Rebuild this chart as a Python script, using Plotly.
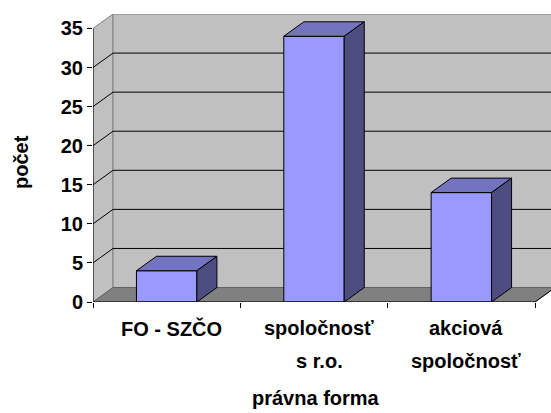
import plotly.graph_objects as go

# ---- data ----
label_line1 = ["FO - SZČO", "spoločnosť", "akciová"]
label_line2 = ["", "s r.o.", "spoločnosť"]
values = [4, 34, 14]
y_ticks = [0, 5, 10, 15, 20, 25, 30, 35]
y_title = "počet"
x_title = "právna forma"

# ---- style constants ----
DX = 0.136      # depth offset (category units)
DY = 1.85       # depth offset (value units)
BAR_W = 0.41
FONT = "Arial, Liberation Sans, sans-serif"
FRONT = "#9999FF"
TOP = "#7373BF"
SIDE = "#4D4D80"
WALL = "#C0C0C0"
FLOOR = "#808080"

n = len(values)
xs = [i + 0.5 for i in range(n)]
ymax = y_ticks[-1]
XR = 458 / ((551 - 93 - 16) / n)

fig = go.Figure()

shapes = []
shapes.append(dict(type="path", xref="x", yref="y", layer="below",
                   path=f"M0,0 L{DX},{DY} L{DX},{ymax+DY} L0,{ymax} Z",
                   fillcolor=WALL, line=dict(color="#808080", width=1)))
shapes.append(dict(type="rect", xref="x", yref="y", layer="below",
                   x0=DX, x1=n + DX, y0=DY, y1=ymax + DY,
                   fillcolor=WALL, line=dict(color="#808080", width=1)))
shapes.append(dict(type="path", xref="x", yref="y", layer="below",
                   path=f"M0,0 L{n},0 L{n+DX},{DY} L{DX},{DY} Z",
                   fillcolor=FLOOR, line=dict(color="#606060", width=1)))
for v in y_ticks[1:-1]:
    shapes.append(dict(type="line", xref="x", yref="y", layer="below",
                       x0=DX, x1=n + DX, y0=v + DY, y1=v + DY,
                       line=dict(color="black", width=1)))
    shapes.append(dict(type="line", xref="x", yref="y", layer="below",
                       x0=0, x1=DX, y0=v, y1=v + DY,
                       line=dict(color="black", width=1)))
shapes.append(dict(type="line", xref="x", yref="y", x0=0, x1=0, y0=0, y1=ymax,
                   line=dict(color="black", width=1)))
shapes.append(dict(type="line", xref="x", yref="y", x0=0, x1=n, y0=0, y1=0,
                   line=dict(color="black", width=1)))
shapes.append(dict(type="line", xref="x", yref="y", x0=n, x1=n + DX, y0=0, y1=DY,
                   line=dict(color="black", width=1)))

fig.add_trace(go.Bar(x=xs, y=values, width=BAR_W,
                     marker=dict(color=FRONT, line=dict(color="black", width=1)),
                     hoverinfo="skip", showlegend=False))
for x, v in zip(xs, values):
    l, r = x - BAR_W / 2, x + BAR_W / 2
    fig.add_trace(go.Scatter(x=[l, r, r + DX, l + DX, l], y=[v, v, v + DY, v + DY, v],
                             mode="lines", fill="toself", fillcolor=TOP,
                             line=dict(color="black", width=1),
                             hoverinfo="skip", showlegend=False))
    fig.add_trace(go.Scatter(x=[r, r + DX, r + DX, r, r], y=[0, DY, v + DY, v, 0],
                             mode="lines", fill="toself", fillcolor=SIDE,
                             line=dict(color="black", width=1),
                             hoverinfo="skip", showlegend=False))

lab_font = dict(family=FONT, size=20, color="black", weight="bold")
annotations = []
for x, a, b in zip(xs, label_line1, label_line2):
    annotations.append(dict(x=x, y=0, xref="x", yref="paper", text=a,
                            showarrow=False, yanchor="middle", yshift=-26, xshift=5,
                            font=lab_font))
    if b:
        annotations.append(dict(x=x, y=0, xref="x", yref="paper", text=b,
                                showarrow=False, yanchor="middle", yshift=-59, xshift=5,
                                font=lab_font))
annotations.append(dict(x=n / 2, y=0, xref="x", yref="paper", text=x_title,
                        showarrow=False, yanchor="middle", yshift=-96, xshift=2,
                        font=lab_font))
annotations.append(dict(x=0, y=(140 / 288), xref="paper", yref="paper",
                        text=y_title, textangle=-90, showarrow=False,
                        xanchor="center", yanchor="middle", xshift=-72,
                        font=lab_font))

fig.update_layout(
    width=551, height=413,
    margin=dict(l=93, r=0, t=14, b=111),
    paper_bgcolor="white", plot_bgcolor="white",
    shapes=shapes, annotations=annotations,
    showlegend=False,
    xaxis=dict(range=[0, XR], showgrid=False, zeroline=False, showline=False,
               automargin=False,
               tickvals=xs, ticktext=["", "", ""], ticks="",
               minor=dict(tickvals=list(range(n + 1)), ticks="outside", ticklen=5,
                          tickcolor="black", showgrid=False),
               fixedrange=True),
    yaxis=dict(range=[0, ymax + DY], showgrid=False, zeroline=False, showline=False,
               automargin=False,
               tickvals=y_ticks, ticks="outside", ticklen=5, tickcolor="black",
               tickfont=dict(family=FONT, size=20, color="black", weight="bold"),
               fixedrange=True),
)

fig.write_html("out.html", config={"displayModeBar": False},
               post_script="document.body.style.margin='0';document.body.style.overflow='hidden';")
